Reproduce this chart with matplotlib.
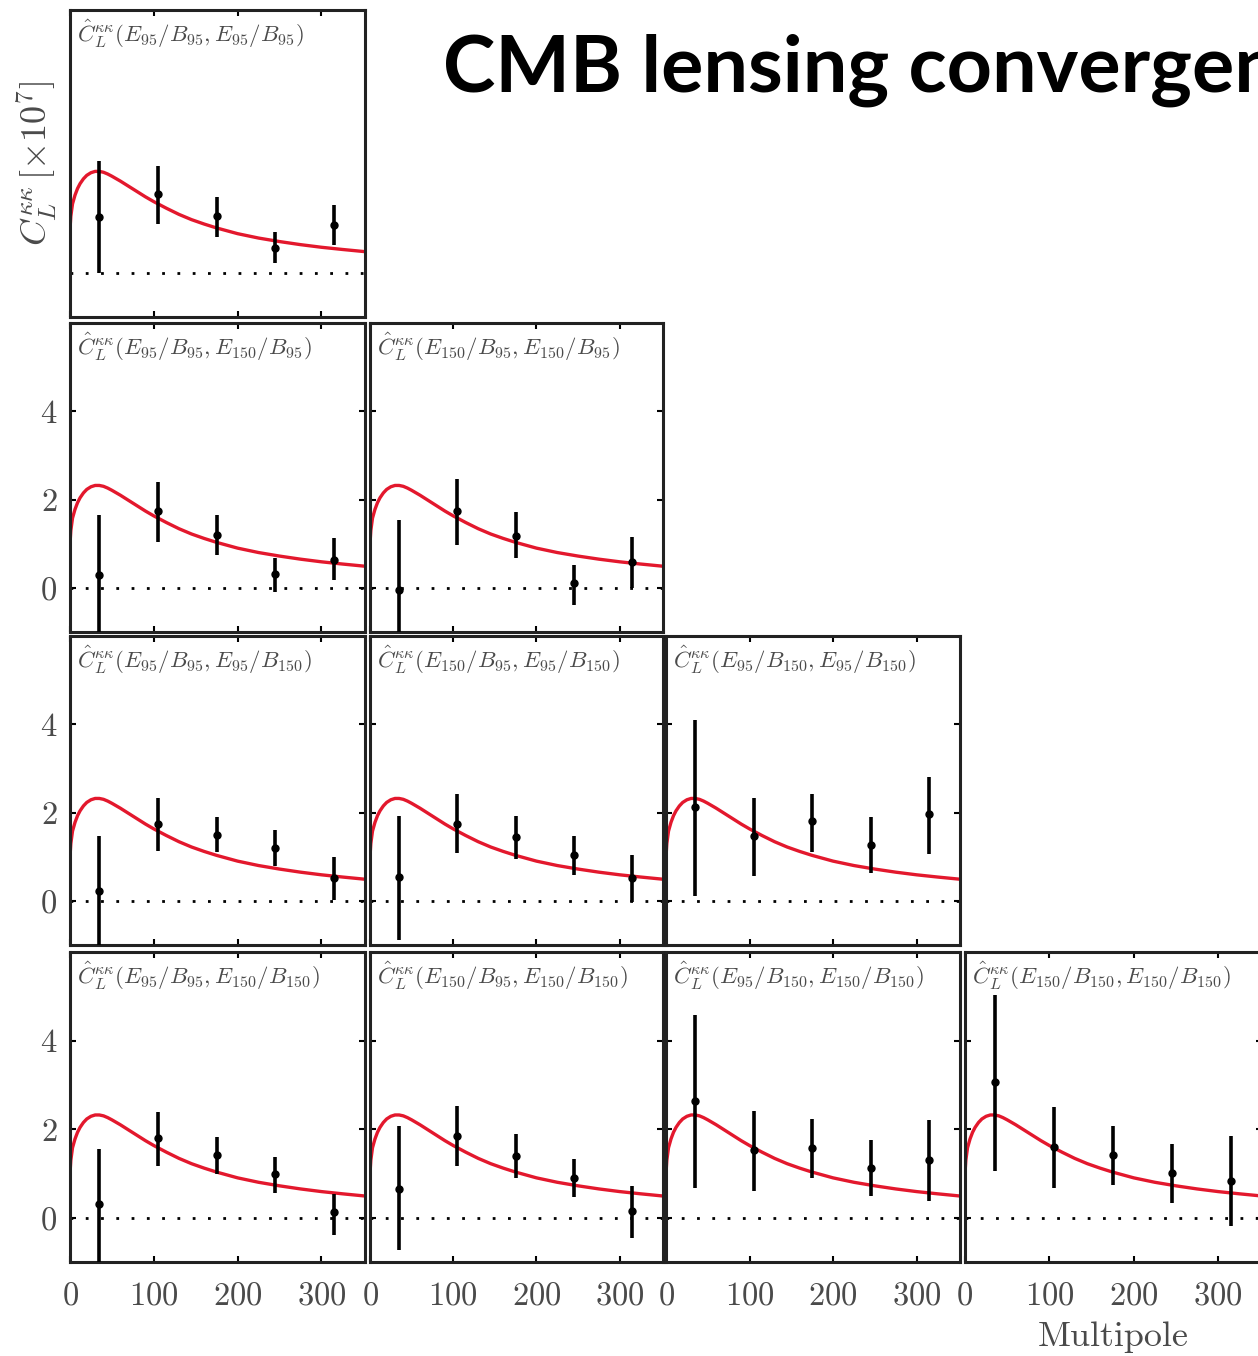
import numpy as np
import matplotlib
matplotlib.use("Agg")
import matplotlib.pyplot as plt

plt.rcParams['mathtext.fontset'] = 'cm'
plt.rcParams['font.family'] = 'serif'
plt.rcParams['font.serif'] = ['cmr10', 'DejaVu Serif']
plt.rcParams['axes.formatter.use_mathtext'] = True

# bandpower centres
ells = [35, 105, 175, 245, 315]

# theory curve
theory_L = [0, 1, 3, 6, 9, 12, 16, 20, 25, 30, 35, 40, 45, 50, 60, 70, 80, 90,
            100, 115, 130, 145, 160, 175, 200, 225, 250, 275, 300, 325, 352]
theory_C = [1.0, 1.3, 1.58, 1.78, 1.93, 2.04, 2.15, 2.23, 2.29, 2.32, 2.32, 2.3,
            2.26, 2.21, 2.1, 1.98, 1.86, 1.74, 1.63, 1.48, 1.34, 1.22, 1.12,
            1.03, 0.9, 0.80, 0.72, 0.65, 0.59, 0.54, 0.49]

# (row, col): label, values, lower end, upper end
panels = {
    (0, 0): (r'$\hat{C}_L^{\kappa\kappa}(E_{95}/B_{95}, E_{95}/B_{95})$',
             [1.28, 1.8, 1.3, 0.58, 1.1],
             [0.0, 1.12, 0.83, 0.22, 0.65],
             [2.56, 2.45, 1.73, 0.94, 1.55]),
    (1, 0): (r'$\hat{C}_L^{\kappa\kappa}(E_{95}/B_{95}, E_{150}/B_{95})$',
             [0.3, 1.73, 1.19, 0.31, 0.63],
             [-1.5, 1.03, 0.74, -0.09, 0.18],
             [1.64, 2.4, 1.64, 0.67, 1.12]),
    (1, 1): (r'$\hat{C}_L^{\kappa\kappa}(E_{150}/B_{95}, E_{150}/B_{95})$',
             [-0.04, 1.73, 1.17, 0.11, 0.58],
             [-1.5, 0.97, 0.67, -0.38, 0.0],
             [1.53, 2.47, 1.71, 0.52, 1.15]),
    (2, 0): (r'$\hat{C}_L^{\kappa\kappa}(E_{95}/B_{95}, E_{95}/B_{150})$',
             [0.22, 1.73, 1.5, 1.19, 0.52],
             [-1.5, 1.12, 1.1, 0.79, 0.02],
             [1.48, 2.34, 1.91, 1.6, 0.99]),
    (2, 1): (r'$\hat{C}_L^{\kappa\kappa}(E_{150}/B_{95}, E_{95}/B_{150})$',
             [0.54, 1.75, 1.44, 1.03, 0.52],
             [-0.88, 1.08, 0.94, 0.58, -0.02],
             [1.93, 2.43, 1.93, 1.48, 1.03]),
    (2, 2): (r'$\hat{C}_L^{\kappa\kappa}(E_{95}/B_{150}, E_{95}/B_{150})$',
             [2.13, 1.48, 1.8, 1.26, 1.96],
             [0.11, 0.56, 1.1, 0.63, 1.06],
             [4.09, 2.34, 2.43, 1.89, 2.81]),
    (3, 0): (r'$\hat{C}_L^{\kappa\kappa}(E_{95}/B_{95}, E_{150}/B_{150})$',
             [0.31, 1.8, 1.42, 0.99, 0.13],
             [-1.5, 1.17, 0.99, 0.56, -0.4],
             [1.55, 2.38, 1.82, 1.37, 0.54]),
    (3, 1): (r'$\hat{C}_L^{\kappa\kappa}(E_{150}/B_{95}, E_{150}/B_{150})$',
             [0.65, 1.84, 1.39, 0.9, 0.16],
             [-0.74, 1.17, 0.9, 0.47, -0.45],
             [2.07, 2.52, 1.89, 1.33, 0.72]),
    (3, 2): (r'$\hat{C}_L^{\kappa\kappa}(E_{95}/B_{150}, E_{150}/B_{150})$',
             [2.63, 1.53, 1.57, 1.12, 1.3],
             [0.67, 0.61, 0.9, 0.49, 0.38],
             [4.58, 2.4, 2.22, 1.75, 2.2]),
    (3, 3): (r'$\hat{C}_L^{\kappa\kappa}(E_{150}/B_{150}, E_{150}/B_{150})$',
             [3.06, 1.6, 1.42, 1.01, 0.83],
             [1.06, 0.67, 0.74, 0.34, -0.18],
             [5.03, 2.49, 2.07, 1.66, 1.84]),
}

W, H = 1258, 1356
fig = plt.figure(figsize=(W / 100, H / 100), dpi=100)

col_x = [(70, 365), (370, 663), (666, 960), (965, 1262)]
row_y = [(10, 317), (323, 632), (636, 945), (952, 1262)]
grey = '#4a4a4a'

for (r, c), (label, vals, lo, hi) in panels.items():
    x0, x1 = col_x[c]
    y0, y1 = row_y[r]
    ax = fig.add_axes([x0 / W, 1 - y1 / H, (x1 - x0) / W, (y1 - y0) / H])
    ax.plot(theory_L, theory_C, color='#e3182d', lw=2.4, zorder=2)
    ax.axhline(0, color='black', lw=2, ls=(0, (1, 4.5)), zorder=1)
    vals = np.array(vals)
    yerr = [vals - np.array(lo), np.array(hi) - vals]
    ax.errorbar(ells, vals, yerr=yerr, fmt='o', color='black', ms=5,
                elinewidth=2.6, capsize=0, zorder=3)
    ax.set_xlim(0, 352)
    ax.set_ylim(-1, 6)
    ax.set_xticks([0, 100, 200, 300])
    ax.set_yticks([0, 2, 4])
    ax.tick_params(direction='in', top=True, right=True, length=4, width=1.5,
                   labelsize=23.5, labelcolor=grey)
    ax.tick_params(axis='x', pad=14)
    ax.tick_params(axis='y', pad=9)
    for s in ax.spines.values():
        s.set_linewidth(2.2)
        s.set_color('#222222')
    if r != 3:
        ax.set_xticklabels([])
    if c != 0 or r == 0:
        ax.set_yticklabels([])
    if r == 0:
        ax.tick_params(left=False, right=False)
        ax.set_ylabel(r'$C_L^{\kappa\kappa}\,[\times 10^7]$', fontsize=26,
                      color=grey, labelpad=-1)
    ax.text(0.025, 0.975, label, transform=ax.transAxes, ha='left', va='top',
            fontsize=16.5, color=grey)
    if (r, c) == (3, 3):
        ax.set_xlabel('Multipole', fontsize=26, color=grey, labelpad=8)

fig.text(443 / W, 1 - 92 / H, 'CMB lensing convergence power spectrum',
         fontsize=57, fontweight='bold', family='Lato', ha='left',
         va='baseline', color='black')

fig.savefig('out.png', dpi=100)
